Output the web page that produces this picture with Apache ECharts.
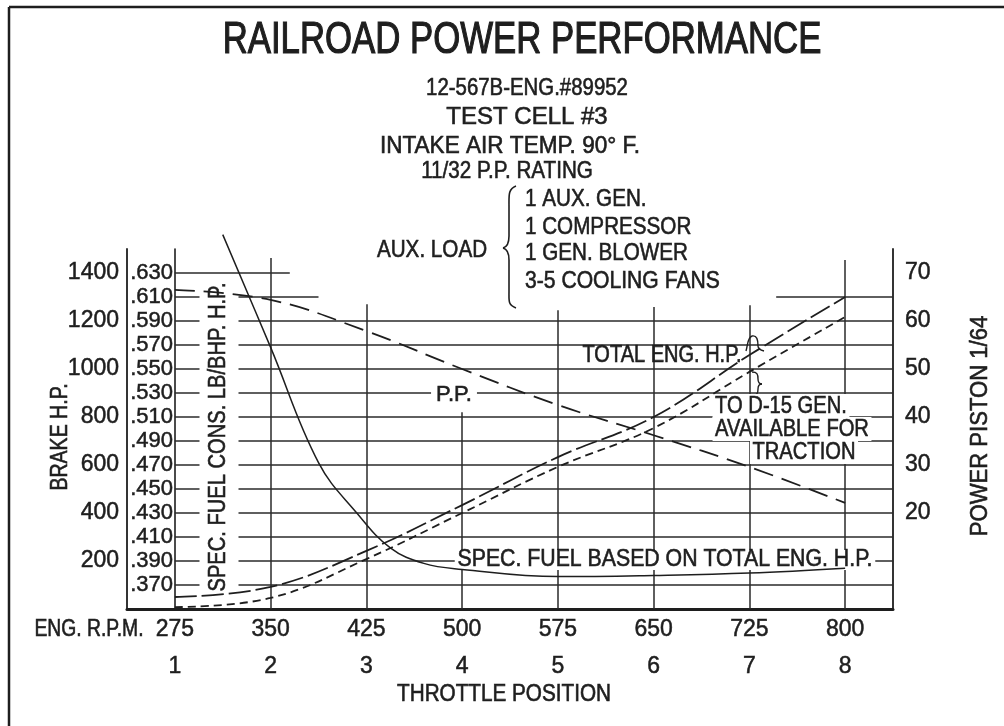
<!DOCTYPE html>
<html>
<head>
<meta charset="utf-8">
<script src="https://cdn.jsdelivr.net/npm/echarts@6/dist/echarts.min.js"></script>
<style>
  html, body { margin: 0; background: #fff; }
  #chart { width: 1004px; height: 726px; }
</style>
</head>
<body>
<div id="chart"></div>
<script>
// values
const throttle = [1, 2, 3, 4, 5, 6, 7, 8]
const engRpm = [275, 350, 425, 500, 575, 650, 725, 800]
const totalEngHp = [50, 92, 242, 433, 633, 800, 1058, 1300]
const tractionHp = [8, 46, 208, 400, 592, 754, 988, 1217]
const powerPiston = [66.5, 64.4, 57.9, 50, 42.5, 36.2, 29.6, 22.1]
const sfcThrottle = [1.5, 2, 2.5, 2.9, 3.25, 3.6, 4, 5, 6, 7, 8]
const specFuel = [0.662, 0.568, 0.472, 0.43, 0.401, 0.388, 0.383, 0.377, 0.378, 0.38, 0.384]
const gridLevels = [100, 200, 300, 400, 500, 600, 700, 800, 900, 1000, 1100, 1200, 1300, 1400]

const INK = '#1e1e1e'
const FONT = '"Liberation Sans", Arial, sans-serif'

const zip = (xs, ys) => xs.map((x, i) => [x, ys[i]])

// grid rules, some of them stop short like on the drawing
const gridSegs = []
for (const lv of gridLevels) {
  let spans = [[1, 8.5]]
  if (lv == 1300) spans = [[1, 2.5], [7.28, 8.5]]
  if (lv == 1400) spans = [[1, 2.2]]
  for (const s of spans) gridSegs.push([{ coord: [s[0], lv] }, { coord: [s[1], lv] }])
}
const vertTop = { 2: 1462, 3: 1270, 4: 820, 5: 1245, 6: 1258, 7: 1266, 8: 1454 }
for (const p of throttle) {
  if (!vertTop[p]) continue
  gridSegs.push([{ coord: [p, 0] }, { coord: [p, vertTop[p]] }])
}

// lettering: a hair of stroke makes it look like the pen
const txt = (text, x, y, size, sx, more) => Object.assign({
  type: 'text', x: x, y: y, scaleX: sx, z: 6,
  style: Object.assign({
    text: text, fill: INK, font: size + 'px ' + FONT,
    stroke: INK, lineWidth: 0.6,
    align: 'center', verticalAlign: 'middle'
  }, (more && more.style) || {})
}, more && more.el)

const white = (pad, lh) => ({ style: { backgroundColor: '#fff', padding: pad, lineHeight: lh } })

// little pen strokes for the braces
const bz = (x1, y1, c1x, c1y, c2x, c2y, x2, y2, w) => ({
  type: 'bezierCurve', z: 6,
  shape: { x1: x1, y1: y1, cpx1: c1x, cpy1: c1y, cpx2: c2x, cpy2: c2y, x2: x2, y2: y2 },
  style: { stroke: INK, lineWidth: w || 1.6, fill: null }
})
const ln = (x1, y1, x2, y2, w) => ({
  type: 'line', z: 6, shape: { x1: x1, y1: y1, x2: x2, y2: y2 },
  style: { stroke: INK, lineWidth: w || 1.6 }
})

const labelStyle = (size, margin) => ({
  margin: margin, fontSize: size, color: INK, fontFamily: FONT,
  textBorderColor: INK, textBorderWidth: 0.5
})

const chart = echarts.init(document.getElementById('chart'))

const option = {
  animation: false,
  backgroundColor: '#fff',
  textStyle: { fontFamily: FONT, color: INK },
  grid: { left: 127, right: 111, top: 249, bottom: 117 },
  xAxis: [
    {
      type: 'value', min: 0.5, max: 8.5,
      axisLine: { show: true, lineStyle: { color: INK, width: 3 } },
      axisTick: { show: false },
      splitLine: { show: false },
      axisLabel: Object.assign(labelStyle(23, 9), {
        customValues: throttle,
        formatter: v => String(engRpm[throttle.indexOf(v)])
      })
    },
    {
      type: 'value', min: 0.5, max: 8.5, position: 'bottom', offset: 37,
      axisLine: { show: false },
      axisTick: { show: false },
      splitLine: { show: false },
      axisLabel: Object.assign(labelStyle(23, 9), { customValues: throttle })
    }
  ],
  yAxis: [
    {
      type: 'value', min: 0, max: 1500, interval: 100, position: 'left',
      axisLine: { show: true, lineStyle: { color: INK, width: 1.8 } },
      axisTick: { show: false },
      splitLine: { show: false },
      axisLabel: Object.assign(labelStyle(23, 8), {
        formatter: v => (v >= 200 && v <= 1400 && v % 200 == 0) ? String(v) : ''
      })
    },
    {
      type: 'value', min: 0.35, max: 0.65, interval: 0.02, position: 'left', offset: -48,
      axisLine: { show: true, lineStyle: { color: INK, width: 1.6 } },
      axisTick: { show: false },
      splitLine: { show: false },
      axisLabel: Object.assign(labelStyle(22, 2), {
        formatter: v => {
          const m = Math.round(v * 1000)
          return (m >= 370 && m <= 630) ? '.' + m : ''
        }
      })
    },
    {
      type: 'value', min: 0, max: 75, interval: 10, position: 'right',
      axisLine: { show: true, lineStyle: { color: INK, width: 1.8 } },
      axisTick: { show: false },
      splitLine: { show: false },
      axisLabel: Object.assign(labelStyle(23, 12), {
        formatter: v => (v >= 20 && v <= 70) ? String(v) : ''
      })
    }
  ],
  series: [
    {
      name: 'grid', type: 'line', data: [], z: 1, silent: true,
      markLine: {
        z: 1, silent: true, symbol: ['none', 'none'], animation: false,
        label: { show: false },
        lineStyle: { color: '#2a2a2a', width: 1.5, type: 'solid' },
        data: gridSegs
      }
    },
    {
      name: 'TOTAL ENG. H.P.', type: 'line', z: 10, symbol: 'none', smooth: 0.4,
      lineStyle: { color: INK, width: 1.8, type: [22, 5] },
      data: zip(throttle, totalEngHp)
    },
    {
      name: 'TO D-15 GEN.', type: 'line', z: 10, symbol: 'none', smooth: 0.4,
      lineStyle: { color: INK, width: 1.8, type: [8, 5] },
      data: zip(throttle, tractionHp)
    },
    {
      name: 'P.P.', type: 'line', yAxisIndex: 2, z: 10, symbol: 'none', smooth: 0.4,
      lineStyle: { color: INK, width: 1.8, type: [20, 9] },
      data: zip(throttle, powerPiston)
    },
    {
      name: 'SPEC. FUEL', type: 'line', yAxisIndex: 1, z: 10, symbol: 'none',
      smooth: 0.4, clip: false,
      lineStyle: { color: INK, width: 1.5 },
      data: zip(sfcThrottle, specFuel)
    }
  ],
  graphic: {
    z: 6,
    elements: [
      // sheet frame
      ln(9, 7, 1004, 7, 2.5),
      ln(9, 7, 9, 726, 2.5),

      txt('RAILROAD POWER PERFORMANCE', 522, 41, 44, 0.79, { style: { lineWidth: 1.2 } }),
      txt('12-567B-ENG.#89952', 527, 88, 24, 0.85),
      txt('TEST CELL #3', 527, 117, 24, 1.0),
      txt('INTAKE AIR TEMP. 90° F.', 510, 146, 24, 0.94),
      txt('11/32 P.P. RATING', 507, 171, 24, 0.86),
      txt('AUX. LOAD', 432, 250, 24, 0.86),
      // brace in front of the aux. load list
      bz(516, 186, 508, 189, 509, 196, 509, 206),
      ln(509, 206, 509, 236),
      bz(509, 236, 509, 244, 507, 247, 503, 248),
      bz(503, 248, 507, 249, 509, 252, 509, 260),
      ln(509, 260, 509, 292),
      bz(509, 292, 509, 301, 508, 305, 516, 308),
      txt('1 AUX. GEN.', 525, 199, 24, 0.86, { style: { align: 'left' } }),
      txt('1 COMPRESSOR', 525, 227, 24, 0.86, { style: { align: 'left' } }),
      txt('1 GEN. BLOWER', 525, 253, 24, 0.86, { style: { align: 'left' } }),
      txt('3-5 COOLING FANS', 525, 281, 24, 0.88, { style: { align: 'left' } }),

      txt('BRAKE H.P.', 61, 437, 23, 0.85, { el: { rotation: Math.PI / 2 } }),
      txt('SPEC. FUEL CONS. LB/BHP. H.P.', 219, 437, 23, 0.875,
        { el: { rotation: Math.PI / 2 }, style: { backgroundColor: '#fff', padding: [8, 2], lineHeight: 23 } }),
      txt('POWER PISTON 1/64', 981, 426, 23, 0.96, { el: { rotation: Math.PI / 2 } }),

      txt('P.P.', 454, 395, 22, 1, white([2, 5], 20)),
      txt('SPEC. FUEL BASED ON TOTAL ENG. H.P.', 665, 560, 23, 0.925, white([0, 3], 20)),
      txt('TOTAL ENG. H.P.', 662, 356, 23, 0.87),
      // hooks tying the labels to their curves
      bz(746, 351, 748, 345, 747, 338, 752, 336, 1.4),
      bz(752, 336, 757, 335, 758, 340, 758, 346, 1.4),
      bz(758, 346, 758, 349, 760, 350, 764, 351, 1.4),
      bz(752, 372, 757, 372, 758, 374, 758, 379, 1.4),
      bz(758, 379, 758, 383, 760, 384, 762, 384, 1.4),
      bz(762, 384, 760, 384, 758, 385, 758, 389, 1.4),
      bz(758, 389, 758, 394, 757, 395, 752, 395, 1.4),
      txt('TO D-15 GEN.', 781, 406, 24, 0.84, white([0, 3], 24)),
      txt('AVAILABLE FOR', 792, 429, 24, 0.84, white([0, 3], 24)),
      txt('TRACTION', 804, 452, 24, 0.84, white([0, 3], 24)),

      txt('ENG. R.P.M.', 89, 630, 23, 0.84),
      txt('THROTTLE POSITION', 504, 695, 23, 0.9)
    ]
  }
}

chart.setOption(option)
</script>
</body>
</html>
